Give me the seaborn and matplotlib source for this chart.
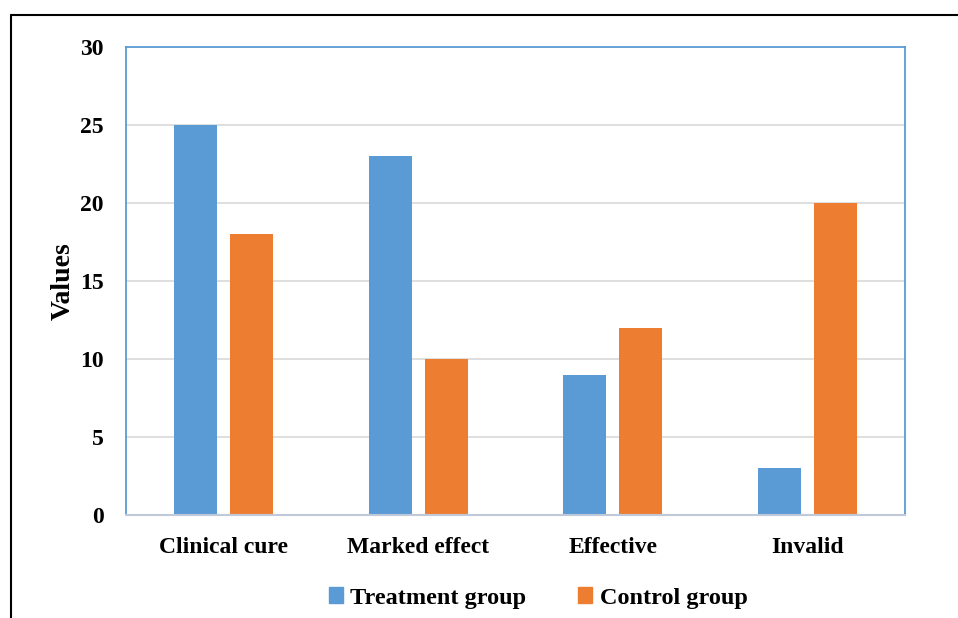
import seaborn as sns
import pandas as pd
import matplotlib.pyplot as plt
from matplotlib.lines import Line2D

# data
categories = ['Clinical cure', 'Marked effect', 'Effective', 'Invalid']
treatment = [25, 23, 9, 3]
control = [18, 10, 12, 20]
groups = ['Treatment group', 'Control group']

df = pd.DataFrame({
    'category': categories * 2,
    'value': treatment + control,
    'group': [groups[0]] * 4 + [groups[1]] * 4,
})

sns.set_style('white')
plt.rcParams['font.family'] = ['Liberation Serif', 'DejaVu Serif']
plt.rcParams['font.weight'] = 'bold'
plt.rcParams['text.color'] = 'black'
plt.rcParams['xtick.color'] = 'black'
plt.rcParams['ytick.color'] = 'black'
plt.rcParams['axes.labelcolor'] = 'black'

fig = plt.figure(figsize=(9.58, 6.18), dpi=100)
ax = fig.add_axes([126 / 958, 1 - 515 / 618, 779 / 958, 468 / 618])

colors = ['#5B9BD5', '#ED7D31']
sns.barplot(data=df, x='category', y='value', hue='group', palette=colors,
            width=0.575, gap=0.23, ax=ax, legend=False, saturation=1,
            linewidth=0)

ax.set_ylim(0, 30)
ax.set_yticks(range(0, 31, 5))
ax.yaxis.grid(True, color='#D9D9D9', linewidth=1.2)
ax.set_axisbelow(True)
ax.tick_params(axis='both', length=0, labelsize=17)
ax.tick_params(axis='y', pad=16)
ax.tick_params(axis='x', pad=16)
for lbl in ax.get_xticklabels() + ax.get_yticklabels():
    lbl.set_fontweight('bold')
ax.set_xlabel('')
ax.set_ylabel('Values', fontsize=20, fontweight='bold', labelpad=3)

for side in ['left', 'right', 'top']:
    ax.spines[side].set_color('#5B9BD5')
    ax.spines[side].set_linewidth(1.3)
ax.spines['bottom'].set_color('#BFC9D9')
ax.spines['bottom'].set_linewidth(1.5)

handles = [plt.Rectangle((0, 0), 1, 1, color=c) for c in colors]
fig.legend(handles, groups, loc='center', bbox_to_anchor=(538 / 958, 1 - 598 / 618),
           ncol=2, frameon=False, prop={'size': 17.5, 'weight': 'bold'},
           handlelength=0.6, handleheight=0.6, handletextpad=0.3,
           columnspacing=2.1)

# outer frame lines (top and left)
fig.add_artist(Line2D([11 / 958, 1], [1 - 15 / 618, 1 - 15 / 618], color='black', linewidth=1.5))
fig.add_artist(Line2D([11 / 958, 11 / 958], [0, 1 - 15 / 618], color='black', linewidth=1.5))

fig.savefig('out.png', dpi=100)
